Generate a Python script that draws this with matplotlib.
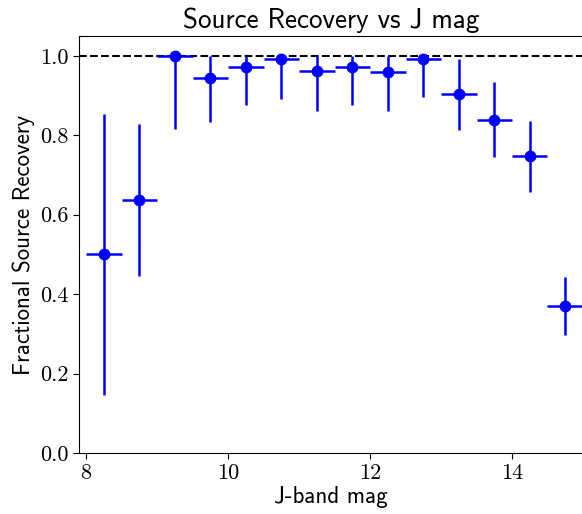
import matplotlib
matplotlib.use("Agg")
import matplotlib.pyplot as plt

# J-band magnitude bins and fractional recovery
mag = [8.25, 8.75, 9.25, 9.75, 10.25, 10.75, 11.25, 11.75, 12.25, 12.75, 13.25, 13.75, 14.25, 14.75]
frac = [0.500, 0.637, 1.000, 0.945, 0.971, 0.992, 0.961, 0.972, 0.959, 0.992, 0.904, 0.839, 0.748, 0.371]
err_lo = [0.354, 0.191, 0.184, 0.111, 0.096, 0.100, 0.099, 0.097, 0.098, 0.096, 0.090, 0.094, 0.090, 0.073]
err_hi = [0.354, 0.192, 0.000, 0.055, 0.029, 0.008, 0.039, 0.028, 0.041, 0.008, 0.088, 0.094, 0.089, 0.071]
bin_half = [0.25] * len(mag)

fig = plt.figure(figsize=(5.82, 5.14), dpi=100)
ax = fig.add_axes([0.1357, 0.1187, 0.866, 0.8113])

ax.axhline(1.0, color="black", linestyle="--", linewidth=1.5, zorder=1)
ax.errorbar(mag, frac, xerr=bin_half, yerr=[err_lo, err_hi], fmt="o", color="blue",
            markersize=7.5, elinewidth=1.8, capsize=0, zorder=2)

ax.set_xlim(7.9, 15.0)
ax.set_ylim(0.0, 1.05)
ax.set_xticks([8, 10, 12, 14])
ax.set_yticks([0.0, 0.2, 0.4, 0.6, 0.8, 1.0])
ax.set_yticklabels(["0.0", "0.2", "0.4", "0.6", "0.8", "1.0"])
ax.tick_params(direction="out", length=4, labelsize=16)
for lab in ax.get_xticklabels() + ax.get_yticklabels():
    lab.set_fontfamily("cmr10")
ax.spines["right"].set_visible(False)

ax.set_title("Source Recovery vs J mag", fontsize=19.5, fontfamily="cmss10")
ax.set_xlabel("J-band mag", fontsize=16.5, fontfamily="cmss10", labelpad=2)
ax.set_ylabel("Fractional Source Recovery", fontsize=16.5, fontfamily="cmss10", labelpad=4)

fig.savefig("out.png", dpi=100)
